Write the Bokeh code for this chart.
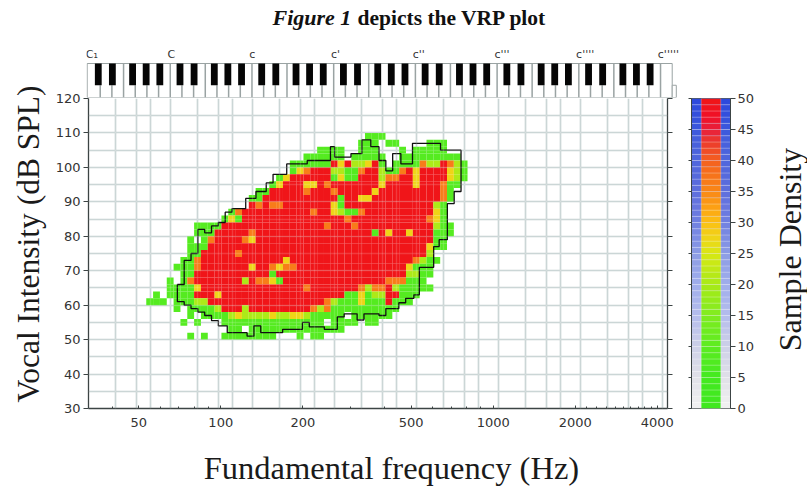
import re
import math
import numpy as np
from bokeh.embed import file_html
from bokeh.resources import INLINE
from bokeh.layouts import column, row
from bokeh.models import (ColumnDataSource, FixedTicker, Grid, Label, LinearAxis, LinearColorMapper,
                          PrintfTickFormatter, Range1d, Title)
from bokeh.plotting import figure
from bokeh.transform import transform
from bokeh.core.properties import value

# ---- data -----------------------------------------------------------------
freq_ticks = [50, 100, 200, 500, 1000, 2000, 4000]
freq_minor = [40, 60, 70, 80, 90, 300, 400, 600, 700, 800, 900, 3000,
              2200, 2400, 2600, 2800, 3200, 3400, 3600, 3800]
db_ticks = [30, 40, 50, 60, 70, 80, 90, 100, 110, 120]
db_grid = list(range(30, 121, 5))
density_ticks = [0, 5, 10, 15, 20, 25, 30, 35, 40, 45, 50]
note_labels = ["C\u2081", "C", "c", "c'", "c''", "c'''", "c''''", "c'''''"]

# density classes of the cells
class_density = {"g": 8, "h": 20, "y": 27, "o": 36, "r": 50}

# one row per 2 dB band; runs of semitones with a density class
row_db = [108, 106, 104, 102, 100, 98, 96, 94, 92, 90, 88, 86, 84, 82, 80, 78, 76, 74, 72, 70,
          68, 66, 64, 62, 60, 58, 56, 54, 52, 50]
row_runs = [
    "40-42g",
    "39-41g 43-44g 49-51g",
    "33-36g 39-41g 45g 47-51g",
    "31-36g 38-42g 45-46g 47-53g",
    "29-34g 35r 36y 37r 38-39h 40y 41r 42g 44-47g 48o 49-50h 51r 52o 53h 54g",
    "29g 30y 31o 32-34r 35-36h 37-38g 39o 40-41r 42h 43-44g 45o 46r 47y 48-51r 52y 53h 54g",
    "27g 28y 29-34r 35g 36y 37-38g 39-41r 42h 43-44o 45-46r 47y 48-51r 52y 53h 54g",
    "26g 27y 28-30r 31-32y 33r 34o 35-41r 42y 43-46r 47y 48-50r 51o 52-53g",
    "24-25g 26-30r 31o 32-34r 35o 36-40r 41y 42-50r 51o 52g",
    "23-24g 25-35r 36g 37-38r 39-40y 41-50r 51o 52g",
    "23r 24o 25r 26-27o 28-34r 35y 36g 37-49r 50h 51g",
    "20g 21o 22-31r 32o 33-34r 35y 36h 37-38g 39o 40-49r 50y 51g",
    "19g 20y 21g 22-36r 37o 38-48r 49o 50y 51g",
    "15-18g 19-33r 34o 35-37r 38o 39-49r 50h 51-52g",
    "15-17g 18-22r 23o 24-40r 41g 42r 43y 44-45r 46y 47-49r 50-52g",
    "14g 16g 17o 18-21r 22o 23y 24-49r 50-51g",
    "14-16g 17-48r 49y 50-51g",
    "14-15g 16-20r 21o 22-48r 49h",
    "13-14g 15o 16-27r 28y 29-46r 47o 48h 49-50g",
    "12-14g 15o 16-22r 23y 24-25r 26o 27y 28-29o 30-45r 46y 47-49g",
    "13-14g 15-25r 26g 27-45r 46-47h 48-49g",
    "11g 13g 14o 15-21r 22h 23r 24-25o 26y 27g 28-42r 43-45o 46-48g",
    "11-14g 15y 16-30r 31o 32-38r 39o 40h 41-42o 43r 44h 45-49g",
    "9g 11-14g 15-17r 18y 19-36r 37-38g 39y 40g 41-42h 43-44r 45-47g",
    "8-10g 12-14g 15-16h 17-33r 34o 35h 36-38g 39y 40-42g 43r 44-46g",
    "12g 14-17g 18h 19-21r 22h 23-31r 32o 33h 34o 35-44g",
    "14g 16-19g 20h 21y 22-25h 26y 27-28h 29-30y 31h 32-36g 38-43g",
    "13g 15g 19-33g 35-38g 40-41g",
    "20-21g 23-36g",
    "14g 16g 19-26g 30g 32-33g",
]

# black contour: semitone above C1 and dB level, read clockwise
outline_semitone = [13, 14, 15, 16, 17, 18, 19, 20, 21, 23, 24.5, 26, 27, 29, 32, 35.4, 36, 38.4, 40, 41.3,
                    42.5, 43.5, 44.5, 45.7, 47.4, 51.5, 54.5, 53.5, 52.5, 51.3, 50.5, 48.4, 47.6, 46.4,
                    45.4, 43.5, 42.5, 40.3, 39.3, 37.4, 36.4, 34.5, 32.3, 31.3, 28.4, 25.2, 24.2, 23.2,
                    20.3, 19, 18, 17, 16, 15, 14, 13]
outline_db = [66, 73, 75, 82, 81, 83, 84, 87, 88, 91, 93, 95.5, 98, 101, 102, 106, 103, 104, 108, 106,
              102, 99, 104, 101, 107, 105, 93, 89.5, 79, 77, 71, 63, 62, 60.7,
              59, 57, 57.5, 55.7, 57.5, 56.6, 53, 53.7, 55, 53, 52, 54, 51, 52,
              54, 55.5, 57, 58, 59, 60, 61, 66]

# ---- helpers ---------------------------------------------------------------
C1 = 32.7
def hz(semitone):
    return C1 * 2 ** (np.asarray(semitone, dtype=float) / 12)

stops = [0, 5, 10, 15, 20, 25, 27, 30, 33, 36, 40, 43, 45, 47, 50]
stop_cols = ["#3fe81f", "#44ea20", "#5cec20", "#80ec20", "#a8ea18", "#d8e814", "#ecd818", "#fcc014",
             "#fc9a14", "#f88018", "#f46020", "#ec3a2c", "#e8203c", "#f01028", "#f01616"]
side_cols = ["#f2f2f2", "#e0e0e8", "#cdd0e8", "#b4bcec", "#a0aeec", "#8c9ce4", "#8090e4", "#7080e0",
             "#6674de", "#5a6cdc", "#5066dc", "#4660dc", "#3c58dc", "#3450dc", "#2c48dc"]
def ramp(cols):
    rgb = np.array([[int(c[i:i + 2], 16) for i in (1, 3, 5)] for c in cols], float)
    out = []
    for lv in np.arange(0.5, 50.5):
        out.append("#%02x%02x%02x" % tuple(int(round(np.interp(lv, stops, rgb[:, j]))) for j in range(3)))
    return out
palette_main = ramp(stop_cols)
palette_side = ramp(side_cols)
main_map = LinearColorMapper(palette=palette_main, low=0, high=50)
side_map = LinearColorMapper(palette=palette_side, low=0, high=50)

cells = {}
for d, runs in zip(row_db, row_runs):
    for a, b, c in re.findall(r"(\d+)(?:-(\d+))?([a-z])", runs):
        for k in range(int(a), int(b or a) + 1):
            cells[(k, d)] = class_density[c]
ks = np.array([c[0] for c in cells])
ds = np.array([c[1] for c in cells])
src = ColumnDataSource(dict(left=hz(ks + 0.45), right=hz(ks + 1.45), bottom=ds, top=ds + 2,
                            density=list(cells.values())))

TXT = "#333333"
AX = "#3c4444"
GRID = "#c2cfcf"
note_semitones = sorted(o * 12 + s for o in range(8) for s in (0, 4, 7, 9))
note_hz = [float(hz(n)) for n in note_semitones]

# ---- keyboard + title ------------------------------------------------------
kb = figure(width=807, height=98, output_backend="svg", toolbar_location=None,
            x_range=Range1d(-0.3, 88.4), y_range=Range1d(0, 97 / 34),
            min_border_left=86, min_border_right=117, min_border_top=0, min_border_bottom=1,
            x_axis_type=None, y_axis_type=None, outline_line_color=None,
            background_fill_color=None, border_fill_color=None)
kb.grid.visible = False
OCT = 12
wk = 12 / 7
octs = 7
keys_right = octs * OCT + wk
kb.quad(left=[-0.2], right=[keys_right], bottom=[0], top=[1], fill_color="white", line_color="#9aa3a3", line_width=1)
kb.quad(left=[keys_right], right=[keys_right + 0.6], bottom=[0], top=[0.36], fill_color="white", line_color="#9aa3a3", line_width=1)
wx, wt = [], []
for w in range(1, octs * 7 + 1):
    wx.append(w * wk)
    wt.append(1.0 if w % 7 in (0, 3) else 0.36)
kb.segment(x0=wx, x1=wx, y0=[0] * len(wx), y1=wt, line_color="#9aa3a3", line_width=1.5)
black_offsets = [1.43, 3.5, 6.47, 8.46, 10.47]
bc = [o * OCT + b for o in range(octs) for b in black_offsets]
kb.quad(left=[c - 0.5 for c in bc], right=[c + 0.5 for c in bc], bottom=[0.36] * len(bc), top=[1] * len(bc),
        fill_color="#050505", line_color=None)
kb.text(x=[i * OCT - 0.4 for i in range(len(note_labels))], y=[1.06] * len(note_labels), text=note_labels,
        text_font=value("DejaVu Sans"), text_font_size="11px", text_color=TXT, text_baseline="bottom")
t1 = Label(x=186, y=80, x_units="screen", y_units="screen", text="Figure 1", text_font="Liberation Serif",
           text_font_size="22px", text_font_style="bold italic", text_color="#111111", text_baseline="middle")
t2 = Label(x=271, y=80, x_units="screen", y_units="screen", text="depicts the VRP plot", text_font="Liberation Serif",
           text_font_size="21.5px", text_font_style="bold", text_color="#111111", text_baseline="middle")
kb.add_layout(t1)
kb.add_layout(t2)

# ---- main plot -------------------------------------------------------------
PAD = 20
BOTTOM = 32
HEIGHT = 310 + BOTTOM + PAD
p = figure(width=683, height=HEIGHT, output_backend="svg", toolbar_location=None, x_axis_type="log",
           x_range=Range1d(C1, 4360), y_range=Range1d(30, 120),
           min_border_left=88, min_border_right=16, min_border_top=PAD, min_border_bottom=BOTTOM,
           outline_line_color=None, background_fill_color=None, border_fill_color=None)
p.xgrid.ticker = FixedTicker(ticks=note_hz)
p.ygrid.ticker = FixedTicker(ticks=db_grid)
for g in (p.xgrid[0], p.ygrid[0]):
    g.grid_line_color = GRID
    g.grid_line_width = 1.6
p.quad(left="left", right="right", bottom="bottom", top="top", source=src,
       fill_color=transform("density", main_map), line_color=None)
p.add_layout(Grid(dimension=0, ticker=FixedTicker(ticks=note_hz), grid_line_color="white", grid_line_alpha=0.16,
                  grid_line_width=1.4, level="annotation"))
p.add_layout(Grid(dimension=1, ticker=FixedTicker(ticks=db_grid), grid_line_color="white", grid_line_alpha=0.16,
                  grid_line_width=1.4, level="annotation"))
p.step(x=hz(outline_semitone), y=outline_db, mode="after", line_color="#101010", line_width=1.3)

p.xaxis.ticker = FixedTicker(ticks=freq_ticks, minor_ticks=freq_minor)
p.xaxis.formatter = PrintfTickFormatter(format="%d")
p.yaxis.ticker = FixedTicker(ticks=db_ticks)
p.xaxis.major_tick_in = 3
p.xaxis.major_tick_out = 0
p.xaxis.minor_tick_in = 2
p.xaxis.minor_tick_out = 0
p.yaxis.major_tick_in = 0
p.yaxis.major_tick_out = 5
p.yaxis.minor_tick_line_color = None
right_ax = LinearAxis(ticker=FixedTicker(ticks=db_ticks), major_label_overrides={t: "" for t in db_ticks},
                      major_tick_in=0, major_tick_out=5, minor_tick_line_color=None,
                      axis_line_color=AX, major_tick_line_color=AX, axis_line_width=1.3)
p.add_layout(right_ax, "right")
for ax in (p.xaxis[0], p.yaxis[0]):
    ax.axis_line_color = AX
    ax.axis_line_width = 1.3
    ax.major_tick_line_color = AX
    ax.major_label_text_font = "DejaVu Sans"
    ax.major_label_text_font_size = "13px"
    ax.major_label_text_color = TXT
p.xaxis[0].minor_tick_line_color = AX
p.xaxis[0].major_label_standoff = 9
p.yaxis[0].major_label_standoff = 3

p.add_layout(Title(text="Vocal Intensity (dB SPL)", align="left", offset=6, standoff=14,
                   text_font="Liberation Serif", text_font_size="31.5px", text_font_style="normal",
                   text_color="#1a1a1a"), "left")

# ---- colour scale ----------------------------------------------------------
levels = np.arange(50)
c = figure(width=74, height=HEIGHT, output_backend="svg", toolbar_location=None,
           x_range=Range1d(0, 40), y_range=Range1d(0, 50),
           min_border_left=8, min_border_right=26, min_border_top=PAD, min_border_bottom=BOTTOM,
           x_axis_type=None, y_axis_type=None, outline_line_color=AX,
           background_fill_color=None, border_fill_color=None)
c.grid.visible = False
lev = ColumnDataSource(dict(bottom=levels, top=levels + 1, density=levels + 0.5))
c.quad(left=0, right=40, bottom="bottom", top="top", source=lev, fill_color=transform("density", side_map),
       line_color="white", line_alpha=0.22, line_width=1)
c.quad(left=10, right=30, bottom="bottom", top="top", source=lev, fill_color=transform("density", main_map),
       line_color="white", line_alpha=0.22, line_width=1)
cl = LinearAxis(ticker=FixedTicker(ticks=density_ticks), major_label_overrides={t: "" for t in density_ticks},
                major_tick_in=0, major_tick_out=3, minor_tick_line_color=None, axis_line_color=AX,
                major_tick_line_color=AX)
cr = LinearAxis(ticker=FixedTicker(ticks=density_ticks), major_tick_in=0, major_tick_out=5,
                minor_tick_line_color=None, axis_line_color=AX, major_tick_line_color=AX,
                major_label_text_font="DejaVu Sans", major_label_text_font_size="13px",
                major_label_text_color=TXT, major_label_standoff=2)
c.add_layout(cl, "left")
c.add_layout(cr, "right")

# strip holding the scale's title
s = figure(width=50, height=HEIGHT, output_backend="svg", toolbar_location=None,
           x_range=Range1d(0, 1), y_range=Range1d(0, 1),
           min_border_left=0, min_border_right=0, min_border_top=PAD, min_border_bottom=BOTTOM,
           x_axis_type=None, y_axis_type=None, outline_line_color=None,
           background_fill_color=None, border_fill_color=None)
s.grid.visible = False
s.add_layout(Label(x=32, y=159, x_units="screen", y_units="screen", text="Sample Density", angle=math.pi / 2,
                   text_font="Liberation Serif", text_font_size="32px", text_color="#1a1a1a",
                   text_align="center", text_baseline="middle"))

# strip holding the frequency title
foot_h = 486 - 98 - 310 - BOTTOM
f = figure(width=807, height=foot_h, output_backend="svg", toolbar_location=None,
           x_range=Range1d(0, 1), y_range=Range1d(0, 1),
           min_border_left=0, min_border_right=0, min_border_top=0, min_border_bottom=0,
           x_axis_type=None, y_axis_type=None, outline_line_color=None,
           background_fill_color=None, border_fill_color=None)
f.grid.visible = False
f.add_layout(Label(x=309, y=19, x_units="screen", y_units="screen", text="Fundamental  frequency (Hz)",
                   text_font="Liberation Serif", text_font_size="32.5px", text_color="#1a1a1a",
                   text_align="center", text_baseline="middle"))

page = column(kb, row(p, c, s, spacing=0, margin=(-PAD, 0, 0, 0)), f, spacing=0)
open("out.html", "w").write(file_html(page, INLINE))
